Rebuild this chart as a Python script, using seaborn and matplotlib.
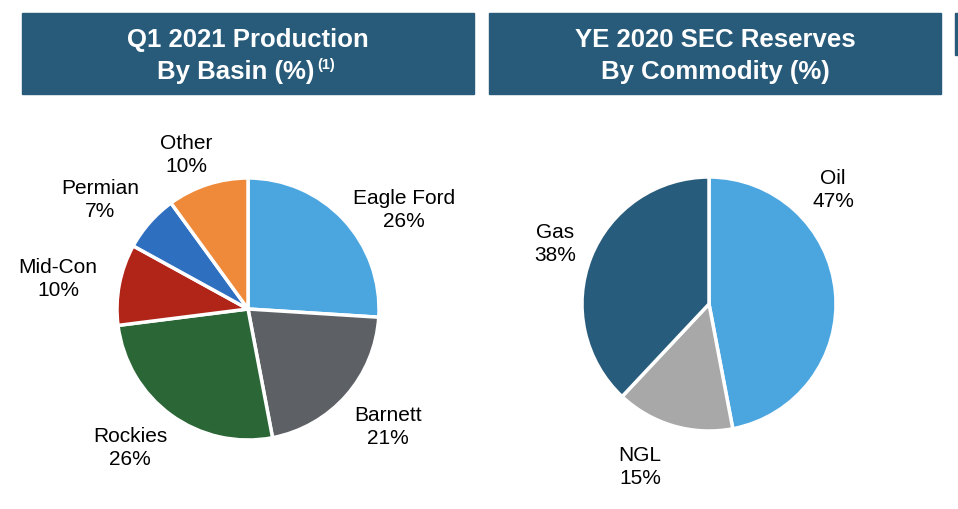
import seaborn as sns
import matplotlib.pyplot as plt
from matplotlib.patches import Rectangle

# Datos
basins = ['Eagle Ford', 'Barnett', 'Rockies', 'Mid-Con', 'Permian', 'Other']
basin_pct = [26, 21, 26, 10, 7, 10]
basin_colors = ['#4ba6e0', '#5d6166', '#2b6637', '#b12519', '#2f6fc0', '#ee8a3a']

commodities = ['Oil', 'NGL', 'Gas']
commodity_pct = [47, 15, 38]
commodity_colors = ['#4ba6e0', '#a8a8a8', '#285c7c']

# posiciones de etiquetas (pixeles de la figura)
basin_label_pos = [(404, 210), (388, 427), (130, 448), (58, 279), (100, 200), (186, 155)]
commodity_label_pos = [(833, 190), (640, 467), (555, 244)]

sns.set_style("white")
plt.rcParams['font.family'] = ['Liberation Sans', 'DejaVu Sans']

W, H = 958, 509
fig = plt.figure(figsize=(W / 100, H / 100), dpi=100)
fig.patch.set_facecolor('white')

header_color = '#285b7a'
for x0, x1 in [(22, 474), (489, 941)]:
    fig.patches.append(Rectangle((x0 / W, 1 - 94 / H), (x1 - x0) / W, 81 / H,
                                 transform=fig.transFigure, color=header_color, zorder=0))
# barra parcial a la derecha
fig.patches.append(Rectangle((955 / W, 1 - 55 / H), 4 / W, 42 / H, transform=fig.transFigure,
                             color=header_color))

hdr = dict(color='white', fontsize=18.5, fontweight='bold', ha='center', va='center')
fig.text(248 / W, 1 - 40 / H, 'Q1 2021 Production', **hdr)
fig.text(236 / W, 1 - 72 / H, 'By Basin (%)', **hdr)
fig.text(317 / W, 1 - 65 / H, '(1)', color='white', fontsize=10.5, fontweight='bold',
         ha='left', va='center')
fig.text(715 / W, 1 - 40 / H, 'YE 2020 SEC Reserves', **hdr)
fig.text(715 / W, 1 - 72 / H, 'By Commodity (%)', **hdr)


def draw_pie(cx, cy, r, values, colors, labels, label_pos):
    ax = fig.add_axes([(cx - r) / W, 1 - (cy + r) / H, 2 * r / W, 2 * r / H])
    ax.pie(values, colors=colors, startangle=90, counterclock=False, radius=1,
           wedgeprops=dict(edgecolor='white', linewidth=2.5))
    ax.set_xlim(-1, 1)
    ax.set_ylim(-1, 1)
    ax.set_aspect('equal')
    ax.axis('off')
    for lab, v, (px, py) in zip(labels, values, label_pos):
        ax.text((px - cx) / r, (cy - py) / r, f'{lab}\n{v}%', ha='center', va='center',
                fontsize=15, color='black', linespacing=1.3)


draw_pie(248, 309, 131, basin_pct, basin_colors, basins, basin_label_pos)
draw_pie(709, 304, 127, commodity_pct, commodity_colors, commodities, commodity_label_pos)

fig.savefig('out.png', dpi=100)
